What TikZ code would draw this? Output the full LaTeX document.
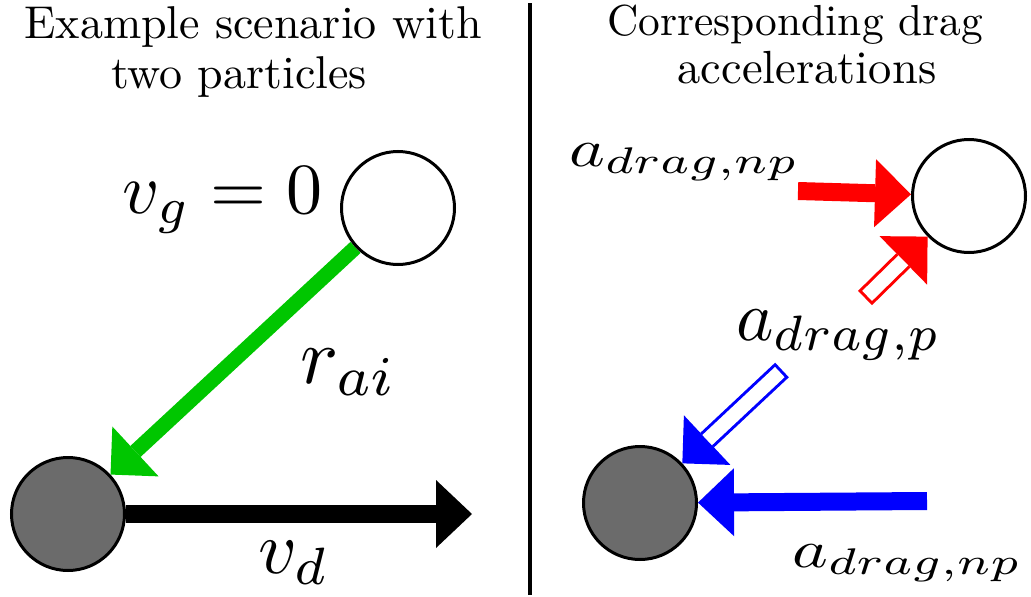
\documentclass[tikz,border=0pt]{standalone}
\usepackage{graphicx}
\usetikzlibrary{arrows.meta,backgrounds}
\definecolor{ggreen}{RGB}{0,198,0}
\definecolor{pgray}{RGB}{107,107,107}
\begin{document}
\begin{tikzpicture}[x=1pt,y=-1pt,
  particle/.style={circle,draw=black,line width=3pt,minimum size=113pt,inner sep=0pt},
  hollowparticle/.style={particle,fill=white},
  solidparticle/.style={particle,fill=pgray},
  bigarrow/.style={line width=18pt,-{Triangle[length=36pt,width=68pt,line width=0pt]}},
  greenarrow/.style={ggreen,line width=15pt,-{Triangle[length=34pt,width=68pt,line width=0pt]}},
  thinarrow/.style={line width=20pt,-{Triangle[length=34pt,width=68pt,line width=0pt]}},
  hollowcore/.style={white,line width=14pt,shorten >=34pt,shorten <=3pt},
  lab/.style={inner sep=0pt,anchor=base west},
  ttl/.style={inner sep=0pt,anchor=base},
]
\useasboundingbox (0,0) rectangle (1031,597);

% titles
\node[ttl] (tl1) at (253,38) {\scalebox{4.6}{Example scenario with}};
\node[ttl] (tl2) at (239,88) {\scalebox{4.6}{two particles}};
\node[ttl] (tr1) at (795,35) {\scalebox{4.34}{Corresponding drag}};
\node[ttl] (tr2) at (807,83) {\scalebox{4.65}{accelerations}};

% divider
\draw[line width=3.5pt] (530,3) -- (530,595);

% particles
\node[hollowparticle] (pL1) at (398,208) {};
\node[solidparticle] (pL2) at (68,514) {};
\node[hollowparticle] (pR1) at (969,196) {};
\node[solidparticle] (pR2) at (640,503) {};

% free ends
\coordinate (tipB) at (472,514);
\coordinate (tailR) at (798,191);
\coordinate (tailRh) at (865,298);
\coordinate (tailB) at (927,501);
\coordinate (tailBh) at (782,370);

\begin{pgfonlayer}{background}
\draw[greenarrow] (pL1) -- (pL2);
\draw[bigarrow,black] (pL2) -- (tipB);
\draw[bigarrow,red] (tailR) -- (pR1);
\draw[thinarrow,red] (tailRh) -- (pR1);
\draw[hollowcore] (tailRh) -- (pR1);
\draw[bigarrow,blue] (tailB) -- (pR2);
\draw[thinarrow,blue] (tailBh) -- (pR2);
\draw[hollowcore] (tailBh) -- (pR2);
\end{pgfonlayer}

% labels
\node[lab] (vg) at (122,213) {\scalebox{7.2}{$v_g = 0$}};
\node[lab] (rai) at (300,383) {\scalebox{8}{$r_{ai}$}};
\node[lab] (vd) at (258,573) {\scalebox{7.5}{$v_d$}};
\node[lab] (anp1) at (569,166) {\scalebox{6.8}[5.3]{$a_{drag,np}$}};
\node[lab] (ap) at (736,340) {\scalebox{7.1}{$a_{drag,p}$}};
\node[lab] (anp2) at (792,567) {\scalebox{6.8}[5.3]{$a_{drag,np}$}};
\end{tikzpicture}
\end{document}
